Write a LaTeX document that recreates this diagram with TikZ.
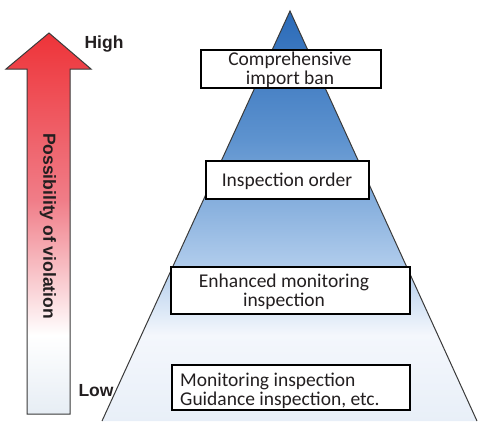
\documentclass[tikz,border=0pt]{standalone}
\usepackage{fontspec}
\setmainfont{Carlito}
\newfontfamily\scalefont{Liberation Sans}
\usetikzlibrary{calc}

\definecolor{pyrtop}{HTML}{2A6AB8}
\definecolor{pyrmid}{HTML}{5E93CF}
\definecolor{pyrlight}{HTML}{B0CCEC}
\definecolor{pyrpale}{HTML}{F4F7FC}
\definecolor{pyrbottom}{HTML}{E8EFF8}
\definecolor{arrtop}{HTML}{EE3338}
\definecolor{arrmid}{HTML}{F07D88}
\definecolor{arrbottom}{HTML}{E6EDF4}
\definecolor{textgray}{HTML}{231F20}
\definecolor{edgegray}{HTML}{3A3A3A}

\begin{document}
\begin{tikzpicture}[x=1pt,y=-1pt,
    levelbox/.style={draw=black, line width=1.4pt, fill=white, inner sep=0pt},
    leveltext/.style={text=textgray, font=\fontsize{19.5}{19}\selectfont, align=center, inner sep=0pt},
    scaletext/.style={text=textgray, font=\scalefont\bfseries\fontsize{17.5}{20}\selectfont, inner sep=0pt}]
    \useasboundingbox (0,0) rectangle (478,421);

    % Freccia
    \coordinate (tip) at (49,33);
    \coordinate (headL) at (6,69);
    \coordinate (headR) at (91,69);
    \coordinate (shaftL) at (27,414);
    \coordinate (shaftR) at (70,414);
    \begin{scope}
        \clip (tip) -- (headR) -- (70,69) -- (shaftR) -- (shaftL) -- (27,69) -- (headL) -- cycle;
        \shade[top color=arrtop, bottom color=arrmid] (0,32) rectangle (100,200.5);
        \shade[top color=arrmid, bottom color=white] (0,200) rectangle (100,335.5);
        \shade[top color=white, bottom color=arrbottom] (0,335) rectangle (100,415);
    \end{scope}
    \draw[edgegray, line width=1pt] (tip) -- (headR) -- (70,69) -- (shaftR) -- (shaftL) -- (27,69) -- (headL) -- cycle;

    \node[scaletext] (high) at (104,44) {High};
    \node[scaletext] (low) at (96,391) {Low};
    \node[scaletext, rotate=-90] (axis) at (48,226) {Possibility of violation};

    % Piramide
    \coordinate (apex) at (290,11);
    \coordinate (baseL) at (102,421);
    \coordinate (baseR) at (477,421);
    \begin{scope}
        \clip (apex) -- (baseR) -- (baseL) -- cycle;
        \shade[top color=pyrtop, bottom color=pyrmid] (90,10) rectangle (480,140.5);
        \shade[top color=pyrmid, bottom color=pyrlight] (90,140) rectangle (480,265.5);
        \shade[top color=pyrlight, bottom color=pyrpale] (90,265) rectangle (480,335.5);
        \shade[top color=pyrpale, bottom color=pyrbottom] (90,335) rectangle (480,422);
    \end{scope}
    \draw[edgegray, line width=1pt] (baseL) -- (apex) -- (baseR);

    % Livelli
    \node[levelbox, minimum width=180pt, minimum height=38pt] (ban) at (291,69) {};
    \node[leveltext] (bantext) at (290,70) {Comprehensive\\import ban};

    \node[levelbox, minimum width=163pt, minimum height=38pt] (order) at (287.5,180) {};
    \node[leveltext, anchor=base] (ordertext) at (287,186) {Inspection order};

    \node[levelbox, minimum width=239pt, minimum height=47pt] (enhanced) at (290.5,290.5) {};
    \node[leveltext] (enhancedtext) at (284,291.5) {Enhanced monitoring\\inspection};

    \node[levelbox, minimum width=238pt, minimum height=45pt] (monitor) at (291,387.5) {};
    \node[leveltext, align=left, anchor=west] (monitortext) at (180,391) {Monitoring inspection\\Guidance inspection, etc.};
\end{tikzpicture}
\end{document}
